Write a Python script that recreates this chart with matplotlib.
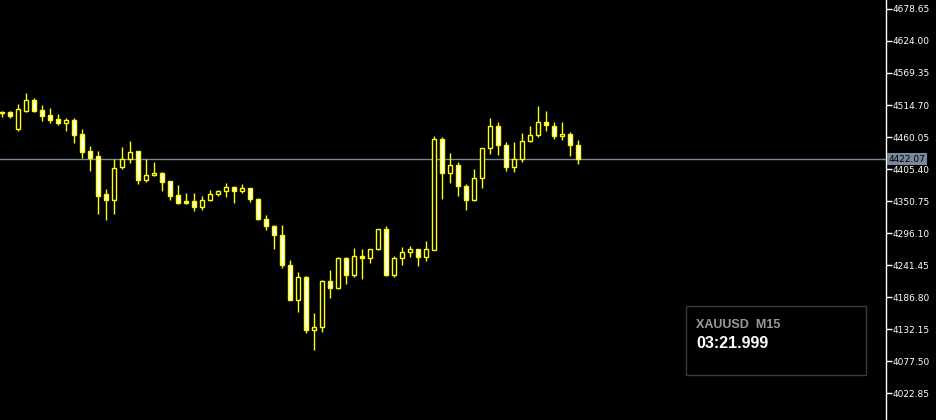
import numpy as np
import matplotlib
matplotlib.use('Agg')
import matplotlib.pyplot as plt
from matplotlib.patches import Rectangle

# XAUUSD M15 candles
opens = [4501.0, 4502.2, 4474.2, 4505.0, 4523.2, 4506.2, 4497.6, 4490.8, 4484.8, 4489.1,
         4465.2, 4436.1, 4427.1, 4362.2, 4353.0, 4408.3, 4422.0, 4435.6, 4386.1, 4394.6,
         4398.6, 4384.4, 4360.5, 4350.8, 4350.2, 4341.0, 4352.0, 4362.4, 4367.5, 4374.3,
         4367.0, 4372.6, 4354.7, 4320.5, 4308.9, 4293.5, 4242.0, 4182.2, 4220.4, 4129.6,
         4135.1, 4213.6, 4202.7, 4252.9, 4225.2, 4256.3, 4252.9, 4268.3, 4302.4, 4224.4,
         4252.9, 4263.1, 4268.3, 4255.6, 4267.8, 4456.1, 4398.1, 4411.7, 4376.9, 4352.0,
         4389.5, 4440.8, 4478.3, 4445.9, 4408.3, 4422.0, 4452.7, 4463.0, 4485.2, 4478.3,
         4461.3, 4464.7, 4445.9]
highs = [4504.5, 4503.6, 4516.4, 4535.2, 4526.7, 4514.7, 4509.6, 4499.3, 4492.5, 4492.5,
         4473.7, 4444.7, 4436.1, 4370.9, 4422.0, 4443.0, 4453.2, 4436.5, 4422.0, 4416.8,
         4400.3, 4384.9, 4378.1, 4364.4, 4364.4, 4359.3, 4369.5, 4369.5, 4381.0, 4376.4,
         4379.8, 4373.0, 4355.4, 4326.8, 4309.5, 4309.4, 4250.0, 4229.5, 4222.2, 4159.5,
         4215.3, 4232.9, 4254.6, 4254.6, 4270.5, 4268.8, 4268.8, 4303.0, 4308.1, 4256.8,
         4272.2, 4273.9, 4269.0, 4282.4, 4461.8, 4459.5, 4432.7, 4416.8, 4379.3, 4404.9,
         4441.5, 4492.0, 4485.2, 4451.0, 4451.0, 4466.4, 4478.3, 4513.0, 4503.9, 4485.2,
         4485.2, 4468.1, 4454.4]
lows = [4494.2, 4493.0, 4470.8, 4502.2, 4502.8, 4487.9, 4484.5, 4481.1, 4470.8, 4450.3,
        4424.7, 4402.5, 4329.1, 4318.8, 4329.1, 4405.9, 4415.1, 4380.3, 4382.7, 4392.6,
        4368.3, 4353.0, 4346.1, 4346.1, 4334.2, 4335.9, 4351.6, 4359.8, 4358.1, 4347.9,
        4364.9, 4349.6, 4318.8, 4301.7, 4269.3, 4236.8, 4181.0, 4161.7, 4125.8, 4096.3,
        4127.5, 4185.6, 4201.0, 4209.5, 4221.5, 4218.1, 4245.4, 4266.5, 4222.7, 4221.5,
        4242.0, 4255.6, 4240.3, 4248.8, 4267.0, 4354.7, 4382.0, 4359.8, 4335.9, 4350.0,
        4373.5, 4431.5, 4429.8, 4402.5, 4400.8, 4417.9, 4451.5, 4459.5, 4469.8, 4456.1,
        4454.4, 4427.1, 4413.4]
closes = [4501.9, 4496.4, 4507.9, 4523.2, 4504.5, 4496.4, 4489.6, 4484.5, 4489.1, 4464.0,
          4435.0, 4424.7, 4360.1, 4353.3, 4406.6, 4422.0, 4433.9, 4386.1, 4394.6, 4398.1,
          4383.7, 4360.1, 4347.9, 4347.9, 4341.0, 4352.0, 4362.4, 4367.5, 4374.3, 4367.0,
          4372.6, 4354.7, 4320.5, 4308.9, 4293.5, 4242.0, 4182.2, 4220.4, 4129.6, 4135.1,
          4213.6, 4202.7, 4252.9, 4225.2, 4256.3, 4252.9, 4268.3, 4302.4, 4224.4, 4252.9,
          4263.1, 4268.3, 4255.6, 4268.3, 4456.1, 4398.1, 4411.7, 4376.9, 4352.0, 4389.5,
          4440.8, 4478.3, 4445.9, 4408.3, 4422.0, 4452.7, 4463.0, 4485.2, 4480.0, 4461.3,
          4464.7, 4445.9, 4422.07]

price_ticks = [4678.65, 4624.00, 4569.35, 4514.70, 4460.05, 4405.40, 4350.75,
               4296.10, 4241.45, 4186.80, 4132.15, 4077.50, 4022.85]
bid = 4422.07
symbol = 'XAUUSD  M15'
timer = '03:21.999'

W, H = 937, 420
fig = plt.figure(figsize=(W / 100, H / 100), dpi=100, facecolor='black')
ax = fig.add_axes([0, 0, 886 / W, 1])
ax.set_facecolor('black')

o = np.array(opens); h = np.array(highs); l = np.array(lows); c = np.array(closes)
x = np.arange(len(o))
bull = c >= o

# wicks then bodies
ax.vlines(x, l, h, color='#ffff00', lw=1.0, zorder=2)
ax.bar(x, np.abs(c - o), bottom=np.minimum(o, c), width=0.5,
       color=np.where(bull, 'black', 'white'), edgecolor='#ffff00', lw=1.0, zorder=3)

# bid line
ax.axhline(bid, color='#778899', lw=1.0, zorder=1)

ax.set_xlim(-0.29, -0.29 + 886 / 8)
ax.set_ylim(3976.74, 4694.02)

for s in ['left', 'top', 'bottom']:
    ax.spines[s].set_visible(False)
ax.spines['right'].set_color('white')
ax.spines['right'].set_linewidth(1.0)
ax.set_xticks([])
ax.yaxis.tick_right()
ax.set_yticks(price_ticks)
ax.set_yticklabels(['%.2f' % p for p in price_ticks])
ax.tick_params(axis='y', colors='white', length=4, width=1, labelsize=6.5, pad=1)

# bid price label
ax.text(1.003, bid, '%.2f' % bid, transform=ax.get_yaxis_transform(),
        ha='left', va='center', fontsize=6.5, color='black', zorder=5,
        bbox=dict(boxstyle='square,pad=0.15', facecolor='#778899', edgecolor='none'))

# info panel
fig.add_artist(Rectangle((686 / W, 1 - 375 / H), (866 - 686) / W, (375 - 306) / H,
                         transform=fig.transFigure, facecolor='black',
                         edgecolor='#3a3a3a', lw=1.0))
fig.text(696 / W, 1 - 325 / H, symbol, color='#9a9a9a', fontsize=9,
         fontweight='bold', family='Liberation Sans', va='center', ha='left')
fig.text(696 / W, 1 - 343 / H, timer, color='white', fontsize=11.5,
         fontweight='bold', family='Liberation Sans', va='center', ha='left')

fig.savefig('out.png', dpi=100, facecolor='black')
